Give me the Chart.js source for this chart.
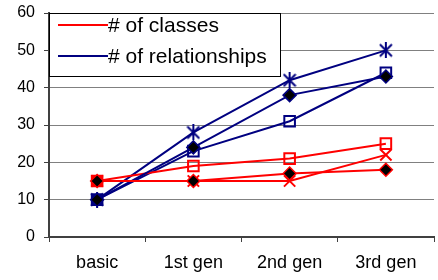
<!DOCTYPE html>
<html>
<head>
<meta charset="utf-8">
<script src="https://cdn.jsdelivr.net/npm/chart.js@4/dist/chart.umd.min.js"></script>
<style>
  html, body { margin: 0; padding: 0; background: #fff; overflow: hidden; }
  #wrap { width: 444px; height: 280px; position: relative; }
</style>
</head>
<body>
<div id="wrap"><canvas id="myChart"></canvas></div>
<script>
// categories and series
const categories = ['basic', '1st gen', '2nd gen', '3rd gen'];
const classesDiamond = [15, 15, 17, 18];
const classesSquare = [15, 19, 21, 25];
const classesCross = [15, 15, 15, 22];
const relDiamond = [10, 24, 38, 43];
const relSquare = [10, 23, 31, 44];
const relStar = [10, 28, 42, 50];
const yTicks = [0, 10, 20, 30, 40, 50, 60];
const legendLabels = ['# of classes', '# of relationships'];

const RED = '#ff0000';
const NAVY = '#000080';

Chart.defaults.font.family = '"Liberation Sans", Arial, sans-serif';
Chart.defaults.color = '#000';

//excel style asterisk marker
function makeStar(color) {
    const c = document.createElement('canvas');
    c.width = 14;
    c.height = 16;
    const g = c.getContext('2d');
    g.strokeStyle = color;
    g.lineWidth = 2;
    g.beginPath();
    g.moveTo(7, 0); g.lineTo(7, 16);
    g.moveTo(1, 2); g.lineTo(13, 14);
    g.moveTo(13, 2); g.lineTo(1, 14);
    g.stroke();
    return c;
}

function diamondSet(label, data, color) {
    return {
        label: label, data: data, borderColor: color, borderWidth: 2,
        pointStyle: 'rectRot', pointRadius: 6.5, pointBorderWidth: 1.5,
        pointBackgroundColor: '#000', pointBorderColor: color
    };
}

function squareSet(label, data, color) {
    return {
        label: label, data: data, borderColor: color, borderWidth: 2,
        pointStyle: 'rect', pointRadius: 7.5, pointBorderWidth: 2,
        pointBackgroundColor: (c) => c.dataIndex === 0 ? color : 'rgba(0,0,0,0)',
        pointBorderColor: color
    };
}

function crossSet(label, data, color) {
    return {
        label: label, data: data, borderColor: color, borderWidth: 2,
        pointStyle: 'crossRot', pointRadius: 8, pointBorderWidth: 2,
        pointBorderColor: color
    };
}

function starSet(label, data, color) {
    return {
        label: label, data: data, borderColor: color, borderWidth: 2,
        pointStyle: makeStar(color), pointBorderColor: color
    };
}

//legend box drawn inside the plot, like the excel original
const boxLegend = {
    id: 'boxLegend',
    afterDraw(chart) {
        const ctx = chart.ctx;
        const a = chart.chartArea;
        const x = a.left, y = a.top, w = 231, h = 63;
        const colors = [RED, NAVY];
        ctx.save();
        ctx.fillStyle = '#fff';
        ctx.fillRect(x, y, w, h);
        ctx.strokeStyle = '#000';
        ctx.lineWidth = 1;
        ctx.strokeRect(x + 0.5, y + 0.5, w, h);
        ctx.font = '21px "Liberation Sans", Arial, sans-serif';
        ctx.textBaseline = 'middle';
        ctx.fillStyle = '#000';
        for (let i = 0; i < legendLabels.length; i++) {
            const ly = y + 12 + i * 31;
            ctx.strokeStyle = colors[i];
            ctx.lineWidth = 2;
            ctx.beginPath();
            ctx.moveTo(x + 9, ly);
            ctx.lineTo(x + 59, ly);
            ctx.stroke();
            ctx.fillText(legendLabels[i], x + 59, ly + 1);
        }
        ctx.restore();
    }
};

new Chart(document.getElementById('myChart'), {
    type: 'line',
    data: {
        labels: categories,
        datasets: [
            diamondSet('classes diamond', classesDiamond, RED),
            diamondSet('relationships diamond', relDiamond, NAVY),
            crossSet('classes cross', classesCross, RED),
            squareSet('classes square', classesSquare, RED),
            squareSet('relationships square', relSquare, NAVY),
            starSet('relationships star', relStar, NAVY)
        ]
    },
    options: {
        responsive: true,
        maintainAspectRatio: false,
        animation: false,
        layout: { padding: { top: 13, right: 2, left: 0, bottom: 0 } },
        plugins: {
            legend: { display: false },
            tooltip: { enabled: false }
        },
        elements: { line: { tension: 0 } },
        scales: {
            x: {
                offset: true,
                afterFit: (s) => { s.height = 43; s.paddingLeft = 0; s.paddingRight = 0; },
                grid: {
                    offset: true,
                    drawOnChartArea: false,
                    drawTicks: true,
                    tickLength: 5,
                    tickColor: '#404040'
                },
                border: { color: '#404040', width: 2 },
                ticks: { font: { size: 18 }, padding: 10, color: '#000' }
            },
            y: {
                min: 0,
                max: 60,
                afterFit: (s) => { s.width = 49; s.paddingTop = 0; s.paddingBottom = 0; },
                afterBuildTicks: (s) => { s.ticks = yTicks.map(v => ({ value: v })); },
                grid: {
                    color: '#808080',
                    lineWidth: 1,
                    tickLength: 5,
                    tickColor: '#404040'
                },
                border: { color: '#404040', width: 2 },
                ticks: { font: { size: 16 }, padding: 9, color: '#000' }
            }
        }
    },
    plugins: [boxLegend]
});
</script>
</body>
</html>
